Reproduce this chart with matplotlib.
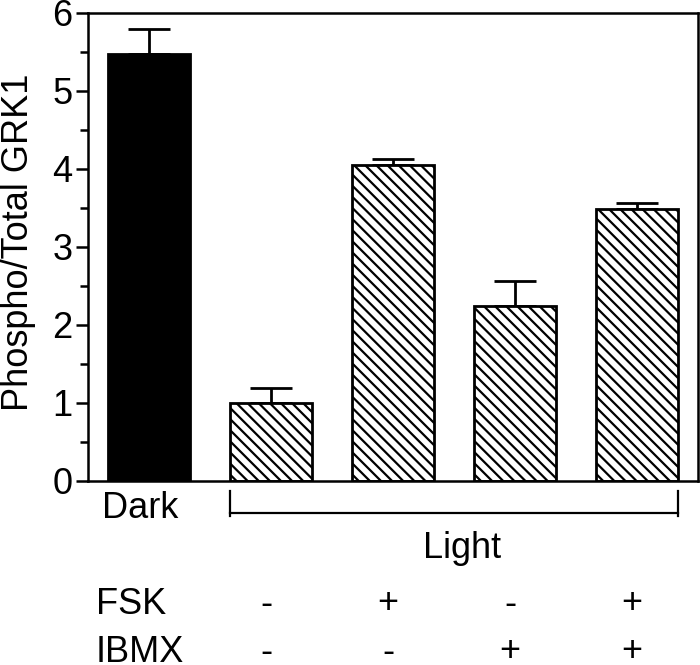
import matplotlib
matplotlib.use("Agg")
import matplotlib.pyplot as plt
import matplotlib.transforms as mtransforms
from matplotlib.ticker import MultipleLocator

plt.rcParams['font.family'] = ['Liberation Sans', 'DejaVu Sans']
plt.rcParams['hatch.linewidth'] = 1.6

groups = ["Dark", "Light", "Light", "Light", "Light"]
means = [5.47, 1.00, 4.05, 2.24, 3.49]
errors = [0.33, 0.19, 0.08, 0.33, 0.07]
fsk = ["", "-", "+", "-", "+"]
ibmx = ["", "-", "-", "+", "+"]
yticks = [0, 1, 2, 3, 4, 5, 6]

W, H = 700, 665
fig = plt.figure(figsize=(W / 100, H / 100), dpi=100)
ax = fig.add_axes([88 / W, 1 - 481 / H, (698 - 88) / W, (481 - 13) / H])

x = list(range(len(means)))
width = 0.67
colors = ["black"] + ["white"] * (len(means) - 1)
hatches = [""] + ["\\\\\\"] * (len(means) - 1)
for xi, m, e, c, h in zip(x, means, errors, colors, hatches):
    ax.bar(xi, m, width=width, color=c, edgecolor="black", linewidth=2.0,
           hatch=h, zorder=2)
    ax.errorbar(xi, m, yerr=[[0], [e]], fmt="none", ecolor="black",
                elinewidth=2.0, capsize=15, capthick=2.0, zorder=1)

ax.set_xlim(-0.5, 4.5)
ax.set_ylim(0, 6)
ax.set_yticks(yticks)
ax.set_yticklabels([str(t) for t in yticks], fontsize=26)
ax.yaxis.set_minor_locator(MultipleLocator(0.5))
ax.tick_params(axis="y", which="major", length=9, width=1.8, pad=2)
ax.tick_params(axis="y", which="minor", length=6, width=1.8)
ax.set_xticks([])
for s in ax.spines.values():
    s.set_linewidth(1.8)
ax.set_ylabel("Phospho/Total GRK1", fontsize=26)
ax.yaxis.set_label_coords(-0.086, 0.51)

tr = mtransforms.blended_transform_factory(ax.transData, fig.transFigure)
def fy(py):
    return 1 - py / H

# Group labels
fig.text(x[0] - 0.07, fy(508), groups[0], transform=tr, fontsize=26,
         ha="center", va="center")
lx0 = x[1] - width / 2
lx1 = x[4] + width / 2
ax.add_line(plt.Line2D([lx0, lx1], [fy(513), fy(513)], transform=tr,
                       color="black", lw=1.6, clip_on=False))
for bx in (lx0, lx1):
    ax.add_line(plt.Line2D([bx, bx], [fy(491), fy(516)], transform=tr,
                           color="black", lw=1.6, clip_on=False))
fig.text((lx0 + lx1) / 2 + 0.07, fy(548), "Light", transform=tr, fontsize=26,
         ha="center", va="center")

fig.text(96 / W, fy(604), "FSK", fontsize=26, ha="left", va="center")
fig.text(96 / W, fy(652), "IBMX", fontsize=26, ha="left", va="center")
for xi, f, b in zip(x, fsk, ibmx):
    if f:
        fig.text(xi - 0.04, fy(604), f, transform=tr, fontsize=26,
                 ha="center", va="center")
    if b:
        fig.text(xi - 0.04, fy(652), b, transform=tr, fontsize=26,
                 ha="center", va="center")

fig.savefig("out.png", dpi=100)
